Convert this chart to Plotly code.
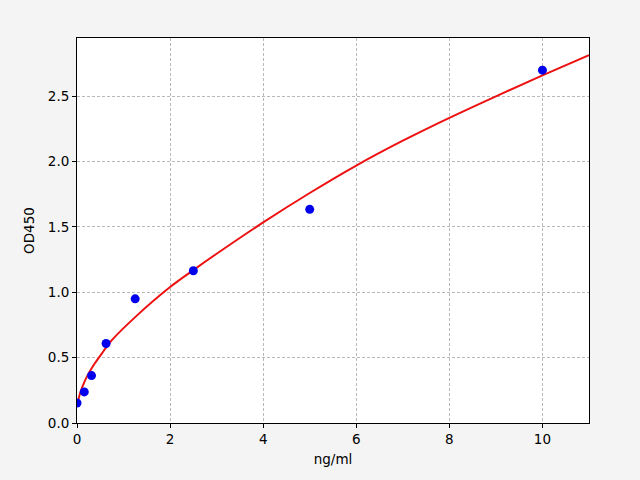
import plotly.graph_objects as go

# standard points (concentration vs OD)
conc = [0, 0.156, 0.3125, 0.625, 1.25, 2.5, 5, 10]
od = [0.153, 0.238, 0.363, 0.608, 0.95, 1.165, 1.635, 2.70]

# fitted curve
curve_x = [0, 0.06, 0.13, 0.235, 0.38, 0.56, 0.74, 1.25, 2, 2.5, 3, 4, 5, 6, 7, 8, 9, 10, 11]
curve_y = [0.13, 0.22, 0.29, 0.37, 0.455, 0.545, 0.63, 0.81, 1.04, 1.17, 1.295, 1.535, 1.76, 1.97, 2.16, 2.335, 2.50, 2.66, 2.815]

fig = go.Figure()

fig.add_trace(go.Scatter(x=curve_x, y=curve_y, mode='lines',
                         line=dict(color='#ee1111', width=2, shape='spline'),
                         hoverinfo='skip'))
fig.add_trace(go.Scatter(x=conc, y=od, mode='markers',
                         marker=dict(color='#0000ee', size=9)))

axis_style = dict(showline=True, linecolor='black', linewidth=1, mirror=True,
                  ticks='outside', ticklen=4, tickcolor='black',
                  showgrid=True, gridcolor='#b8b8b8', griddash='3px,2px', gridwidth=1,
                  zeroline=False, tickfont=dict(size=13.5, color='black'))

fig.update_xaxes(range=[0, 11], tickvals=[0, 2, 4, 6, 8, 10],
                 title=dict(text='ng/ml', font=dict(size=13.5, color='black'), standoff=8),
                 **axis_style)
fig.update_yaxes(range=[0, 2.946], tickvals=[0, 0.5, 1.0, 1.5, 2.0, 2.5], tickformat='.1f',
                 title=dict(text='OD450', font=dict(size=13.5, color='black'), standoff=10),
                 **axis_style)

fig.update_layout(width=640, height=480, showlegend=False,
                  paper_bgcolor='#f4f4f4', plot_bgcolor='white',
                  font=dict(family='DejaVu Sans', size=13.5, color='black'),
                  margin=dict(l=77, r=51, t=38, b=57))

# drop the page's default body margin so the figure sits at the window corner
fig.write_html("out.html", config={'displayModeBar': False},
               post_script="document.body.style.margin='0px';")
